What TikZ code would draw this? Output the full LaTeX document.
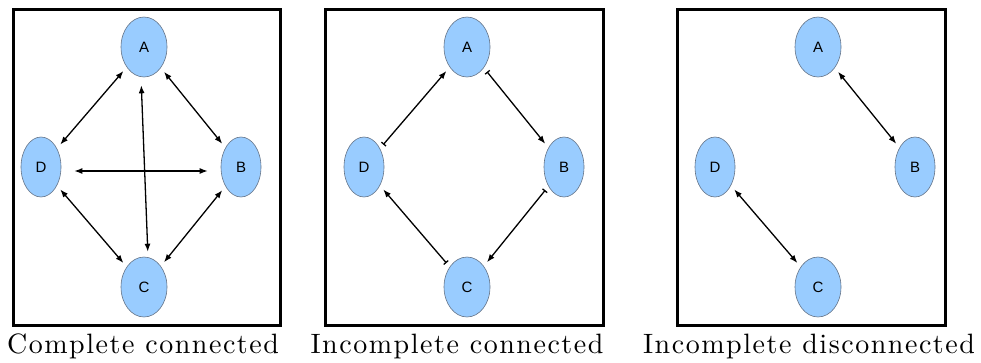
\documentclass[tikz,border=0pt]{standalone}
\usepackage{fontspec}
\newfontfamily\labelfont{Liberation Sans}
\newfontfamily\capfont{lmroman10-regular}[Extension=.otf, LetterSpace=5.5]
\usepackage{xcolor}
\usepackage{tikz}
\usetikzlibrary{shapes.geometric,arrows.meta,positioning}
\definecolor{nodeblue}{RGB}{153,204,255}
\definecolor{nodeline}{RGB}{100,115,135}

\begin{document}
\begin{tikzpicture}[x=1pt, y=-1pt,
    state/.style={ellipse, draw=nodeline, line width=0.6pt, fill=nodeblue, minimum height=60pt, inner sep=0pt, font=\labelfont\fontsize{15}{17}\selectfont},
    wide/.style={state, minimum width=46pt},
    slim/.style={state, minimum width=40pt},
    frame/.style={draw, line width=3pt},
    caption/.style={anchor=base, font=\capfont\fontsize{28}{32}\selectfont},
    link/.style={arrows={Latex[length=8pt,width=6pt]-Latex[length=8pt,width=6pt]}, line width=1.3pt, shorten >=5pt, shorten <=5pt},
    flow/.style={arrows={Bar[width=6pt]-Latex[length=8pt,width=6pt]}, line width=1.3pt, shorten >=5pt, shorten <=5pt}]

    \useasboundingbox (0,0) rectangle (981,362);

    \draw[frame] (13,9) rectangle (280,325);
    \draw[frame] (325,9) rectangle (603,325);
    \draw[frame] (677,9) rectangle (945,325);

    \node[wide] (a1) at (144,47) {A};
    \node[slim] (d1) at (41,167) {D};
    \node[slim] (b1) at (241,167) {B};
    \node[wide] (c1) at (144,287) {C};

    \node[wide] (a2) at (467,47) {A};
    \node[slim] (d2) at (364,167) {D};
    \node[slim] (b2) at (564,167) {B};
    \node[wide] (c2) at (467,287) {C};

    \node[wide] (a3) at (818,47) {A};
    \node[slim] (d3) at (715,167) {D};
    \node[slim] (b3) at (915,167) {B};
    \node[wide] (c3) at (818,287) {C};

    \draw[link] (a1) -- (d1);
    \draw[link] (a1) -- (b1);
    \draw[link, shorten >=13pt, shorten <=13pt] ([yshift=-4pt]d1.east) -- ([yshift=-4pt]b1.west);
    \draw[link, shorten <=8pt] ([xshift=-3pt]a1.south) -- ([xshift=4pt]c1.north);
    \draw[link] (d1) -- (c1);
    \draw[link] (b1) -- (c1);

    \draw[flow] (d2) -- (a2);
    \draw[flow] (a2) -- (b2);
    \draw[flow] (b2) -- (c2);
    \draw[flow] (c2) -- (d2);

    \draw[link] (a3) -- (b3);
    \draw[link] (d3) -- (c3);

    \node[caption] (cap1) at (143,353) {Complete connected};
    \node[caption] (cap2) at (457,353) {Incomplete connected};
    \node[caption] (cap3) at (809,353) {Incomplete disconnected};
\end{tikzpicture}
\end{document}
